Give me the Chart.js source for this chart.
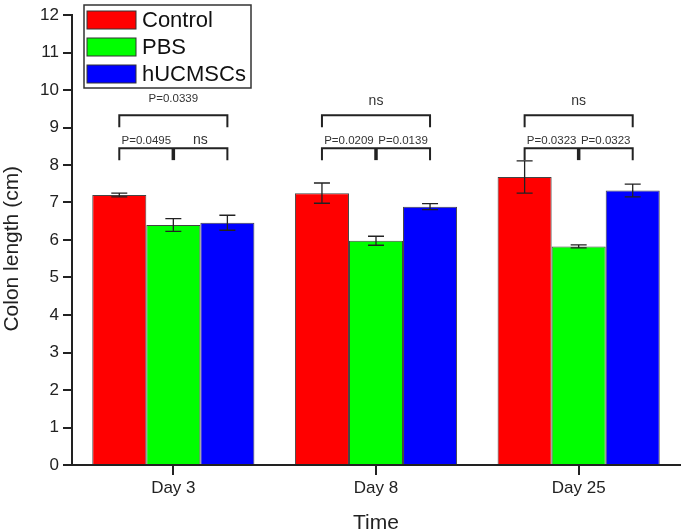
<!DOCTYPE html>
<html>
<head>
<meta charset="utf-8">
<script src="https://cdn.jsdelivr.net/npm/chart.js@4"></script>
<style>
  body { margin: 0; background: #fff; }
  #wrap { width: 685px; height: 531px; }
</style>
</head>
<body>
<div id="wrap"><canvas id="myChart"></canvas></div>
<script>
// data
const categories = ['Day 3', 'Day 8', 'Day 25'];
const controlMeans = [7.2, 7.25, 7.68];
const controlErr = [0.05, 0.27, 0.43];
const pbsMeans = [6.4, 5.98, 5.83];
const pbsErr = [0.17, 0.12, 0.04];
const hucMeans = [6.46, 6.89, 7.32];
const hucErr = [0.2, 0.08, 0.17];

// significance brackets (levels in cm)
const topLabels = ['P=0.0339', 'ns', 'ns'];
const leftLabels = ['P=0.0495', 'P=0.0209', 'P=0.0323'];
const rightLabels = ['ns', 'P=0.0139', 'P=0.0323'];
const upperLevel = 9.33;
const lowerLevel = 8.45;

const errors = [controlErr, pbsErr, hucErr];
const FONT = 'Arial, "Liberation Sans", sans-serif';

const errorBars = {
  id: 'errorBars',
  afterDatasetsDraw(chart) {
    const c = chart.ctx, y = chart.scales.y;
    c.save();
    c.strokeStyle = '#222';
    c.lineWidth = 1.3;
    chart.data.datasets.forEach((ds, i) => {
      chart.getDatasetMeta(i).data.forEach((bar, j) => {
        const v = ds.data[j], e = errors[i][j];
        const yt = y.getPixelForValue(v + e), yb = y.getPixelForValue(v - e);
        c.beginPath();
        c.moveTo(bar.x, yt); c.lineTo(bar.x, yb);
        c.moveTo(bar.x - 8, yt); c.lineTo(bar.x + 8, yt);
        c.moveTo(bar.x - 8, yb); c.lineTo(bar.x + 8, yb);
        c.stroke();
      });
    });
    c.restore();
  }
};

const brackets = {
  id: 'brackets',
  afterDatasetsDraw(chart) {
    const c = chart.ctx, y = chart.scales.y;
    const m0 = chart.getDatasetMeta(0).data, m1 = chart.getDatasetMeta(1).data, m2 = chart.getDatasetMeta(2).data;
    const yu = y.getPixelForValue(upperLevel), yl = y.getPixelForValue(lowerLevel);
    c.save();
    c.strokeStyle = '#222';
    c.fillStyle = '#333';
    c.textAlign = 'center';
    c.textBaseline = 'alphabetic';
    categories.forEach((cat, j) => {
      const xa = m0[j].x, xb = m1[j].x, xc = m2[j].x;
      c.lineWidth = 2;
      c.beginPath();
      c.moveTo(xa, yu + 12); c.lineTo(xa, yu); c.lineTo(xc, yu); c.lineTo(xc, yu + 12);
      c.moveTo(xa, yl + 12); c.lineTo(xa, yl); c.lineTo(xc, yl); c.lineTo(xc, yl + 12);
      c.stroke();
      c.lineWidth = 3.5;
      c.beginPath();
      c.moveTo(xb, yl); c.lineTo(xb, yl + 12);
      c.stroke();

      const fontFor = t => (t === 'ns' ? '14px ' : '11.5px ') + FONT;
      c.font = fontFor(topLabels[j]);
      c.fillText(topLabels[j], (xa + xc) / 2, yu - (topLabels[j] === 'ns' ? 10 : 13));
      c.font = fontFor(leftLabels[j]);
      c.fillText(leftLabels[j], (xa + xb) / 2, yl - 4.5);
      c.font = fontFor(rightLabels[j]);
      c.fillText(rightLabels[j], (xb + xc) / 2, yl - 4.5);
    });
    c.restore();
  }
};

const boxLegend = {
  id: 'boxLegend',
  afterDraw(chart) {
    const c = chart.ctx, left = chart.chartArea.left + 12;
    c.save();
    c.strokeStyle = '#333';
    c.lineWidth = 1.5;
    c.strokeRect(left, 5, 167, 83);
    c.font = '22px ' + FONT;
    c.textBaseline = 'middle';
    c.fillStyle = '#111';
    chart.data.datasets.forEach((ds, i) => {
      const cy = 20 + i * 27;
      c.fillStyle = ds.backgroundColor;
      c.fillRect(left + 3, cy - 9, 49, 18);
      c.lineWidth = 1;
      c.strokeRect(left + 3, cy - 9, 49, 18);
      c.fillStyle = '#111';
      c.fillText(ds.label, left + 58, cy + 1);
    });
    c.restore();
  }
};

const ctx = document.getElementById('myChart');

var chart = new Chart(ctx, {
  type: 'bar',
  data: {
    labels: categories,
    datasets: [
      { label: 'Control', data: controlMeans, backgroundColor: '#ff0000' },
      { label: 'PBS', data: pbsMeans, backgroundColor: '#00ff00' },
      { label: 'hUCMSCs', data: hucMeans, backgroundColor: '#0000ff' }
    ]
  },
  options: {
    responsive: true,
    maintainAspectRatio: false,
    animation: false,
    layout: { padding: { left: 0, right: 5, top: 15, bottom: 0 } },
    datasets: {
      bar: { categoryPercentage: 0.8, barPercentage: 1.0, borderWidth: 1, borderColor: '#444' }
    },
    plugins: {
      legend: { display: false },
      tooltip: { enabled: false }
    },
    scales: {
      x: {
        afterFit: s => { s.height = 66; },
        border: { display: true, color: '#222', width: 2 },
        grid: { offset: false, drawOnChartArea: false, drawTicks: true, tickLength: 10, color: '#222', lineWidth: 2 },
        ticks: { color: '#222', padding: 3, font: { family: FONT, size: 17 } },
        title: { display: true, text: 'Time', color: '#222', padding: 0, font: { family: FONT, size: 21, lineHeight: 0.7 } }
      },
      y: {
        min: 0,
        max: 12,
        afterFit: s => { s.width = 72; },
        border: { display: true, color: '#222', width: 2 },
        grid: { drawOnChartArea: false, drawTicks: true, tickLength: 9, color: '#222', lineWidth: 2 },
        ticks: { stepSize: 1, color: '#222', padding: 4, font: { family: FONT, size: 17 } },
        // trailing spaces nudge the rotated title a little lower, as in the figure
        title: { display: true, text: 'Colon length (cm)   ', color: '#222', padding: 0, font: { family: FONT, size: 21 } }
      }
    }
  },
  plugins: [errorBars, brackets, boxLegend]
});
</script>
</body>
</html>
